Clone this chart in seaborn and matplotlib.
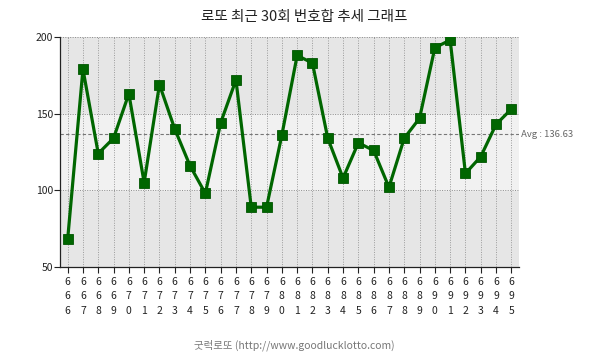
import pandas as pd
import matplotlib
matplotlib.use('Agg')
import matplotlib.pyplot as plt
import seaborn as sns

# last 30 draws and their number sums
rounds = list(range(666, 696))
sums = [68, 179, 124, 134, 163, 105, 169, 140, 116, 98,
        144, 172, 89, 89, 136, 188, 183, 134, 108, 131,
        126, 102, 134, 147, 193, 198, 111, 122, 143, 153]
avg_value = 136.63
y_ticks = [50, 100, 150, 200]

title = '로또 최근 30회 번호합 추세 그래프'
footer = '굿럭로또 (http://www.goodlucklotto.com)'

df = pd.DataFrame({'pos': range(len(rounds)), 'sum': sums})

sns.set_theme(style="white")
plt.rcParams['font.family'] = ['Noto Sans CJK KR', 'DejaVu Sans']

fig = plt.figure(figsize=(6.05, 3.59), dpi=100)
ax = fig.add_axes([60 / 605, 1 - 267 / 359, 459 / 605, 230 / 359])

# background bands
ax.set_facecolor('#e6e6e6')
ax.axhspan(100, 150, color='#f1f1f1', zorder=0)

# grid
for i in range(len(rounds)):
    ax.axvline(i, color='#9a9a9a', lw=0.7, ls=(0, (1, 1.5)), zorder=1)
ax.axvline(29.5, color='#9a9a9a', lw=0.7, ls=(0, (1, 1.5)), zorder=1)
for y in [100, 150, 200]:
    ax.axhline(y, color='#8a8a8a', lw=0.7, ls=(0, (1, 1.5)), zorder=1)

# average line
ax.axhline(avg_value, color='#777777', lw=0.8, ls=(0, (3, 2)), zorder=1)
ax.text(29.5, avg_value, f' Avg : {avg_value:.2f}', color='#666666', fontsize=6.8,
        va='center', ha='left', clip_on=False)

sns.lineplot(data=df, x='pos', y='sum', ax=ax, color='#006600', lw=2.3,
             marker='s', markersize=7.5, markeredgecolor='#005500',
             markeredgewidth=0.6, zorder=3)

ax.set_xlim(-0.5, 29.5)
ax.set_ylim(50, 200)
ax.set_yticks(y_ticks)
ax.set_yticklabels([str(v) for v in y_ticks])
ax.set_xticks(range(len(rounds)))
ax.set_xticklabels(['\n'.join(str(r)) for r in rounds], linespacing=1.55)
ax.tick_params(axis='both', which='both', length=4, width=0.8, color='#222222',
               labelsize=7.5, labelcolor='#222222', direction='out',
               bottom=True, left=True)
ax.tick_params(axis='x', pad=3)
ax.tick_params(axis='y', pad=1)
ax.set_xlabel('')
ax.set_ylabel('')

for side in ['top', 'right']:
    ax.spines[side].set_visible(False)
for side in ['left', 'bottom']:
    ax.spines[side].set_color('#222222')
    ax.spines[side].set_linewidth(0.9)

fig.text(304 / 605, 1 - 17 / 359, title, ha='center', va='center', fontsize=10.5,
         color='#222222')
fig.text(294 / 605, 1 - 345 / 359, footer, ha='center', va='center',
         fontsize=7.5, color='#777777')

fig.savefig('out.png', dpi=100)
